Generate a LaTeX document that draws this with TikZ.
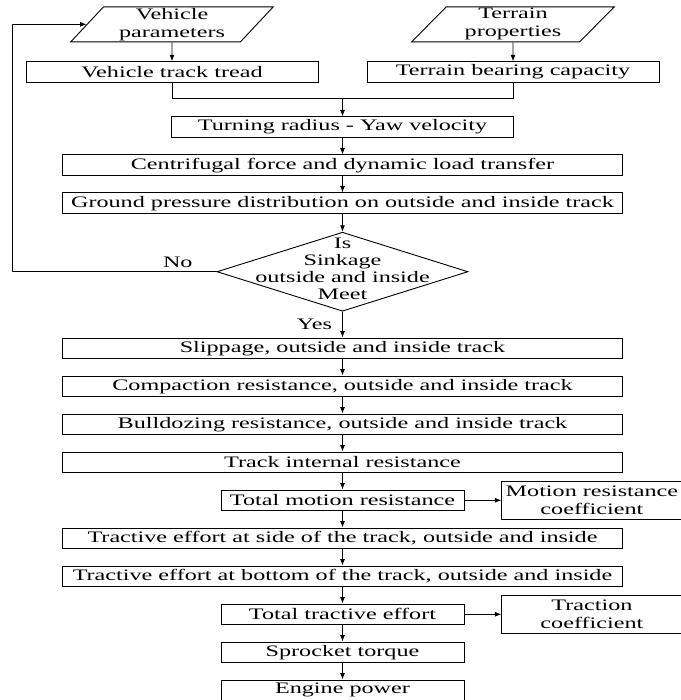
\documentclass[tikz,border=0pt]{standalone}
\usepackage{fontspec}
\setmainfont{Liberation Serif}[FakeStretch=1.51]
\usetikzlibrary{matrix,positioning,shapes.geometric,arrows.meta}

\begin{document}
\begin{tikzpicture}[x=1pt,y=-1pt,line width=0.9pt,font=\fontsize{16pt}{18pt}\selectfont,>={Latex[length=6.5pt,width=5pt]},
	box/.style={rectangle,draw,inner sep=0pt,minimum height=20.5pt},
	wide/.style={minimum width=560pt},
	mid/.style={minimum width=342pt},
	short/.style={minimum width=243pt},
	decision/.style={diamond,draw,inner sep=0pt,minimum width=251pt,minimum height=79pt},
	para/.style={trapezium,draw,trapezium left angle=52,trapezium right angle=128,trapezium stretches=true,minimum width=203pt,minimum height=35pt,inner sep=0pt,align=center},
	coef/.style={rectangle,draw,inner sep=0pt,minimum width=180pt,minimum height=38pt,align=center}]
	\useasboundingbox (0,0) rectangle (680,700);
	\node [box,minimum width=292pt] (vt) at (172,72) {Vehicle track tread};
	\node [box,minimum width=292pt] (tb) at (513,72) {Terrain bearing capacity};
	\node [para,above=19pt of vt] (vp) {Vehicle\\parameters};
	\node [para,above=19pt of tb] (tp) {Terrain\\properties};
	\matrix [matrix of nodes,anchor=north,inner sep=0pt,row sep=16.6pt,cells={nodes={box,wide,anchor=center}}] (m) at (342.5,116) {
		|[mid]| Turning radius - Yaw velocity \\
		Centrifugal force and dynamic load transfer \\
		Ground pressure distribution on outside and inside track \\[1.5pt]
		|[decision]| {} \\[9.5pt]
		Slippage, outside and inside track \\
		Compaction resistance, outside and inside track \\
		Bulldozing resistance, outside and inside track \\
		Track internal resistance \\
		|[short]| Total motion resistance \\
		Tractive effort at side of the track, outside and inside \\
		Tractive effort at bottom of the track, outside and inside \\
		|[short]| Total tractive effort \\
		|[short]| Sprocket torque \\
		|[short]| Engine power \\
	};
	\node [align=center,font=\fontsize{16pt}{17pt}\selectfont] (q) at ([yshift=2.5pt]m-4-1) {Is\\Sinkage\\outside and inside\\Meet};
	\node [coef,right=37pt of m-9-1] (mrc) {Motion resistance\\coefficient};
	\node [coef,right=37pt of m-12-1] (tc) {Traction\\coefficient};
	% main chain
	\foreach \X in {1,...,13} {
		\ifnum\X=4
		\draw [->] (m-4-1) -- (m-5-1) node [midway,left=10pt,inner sep=0pt] {Yes};
		\else
		\draw [->] (m-\X-1) -- (m-\the\numexpr\X+1\relax-1);
		\fi
	}
	\draw [->] (vp) -- (vt);
	\draw [->] (tp) -- (tb);
	\draw (vt.south) -- ++(0,16) -| (tb.south);
	\draw [->] ([yshift=18pt]m-1-1.north) -- (m-1-1.north);
	\draw [->] (m-4-1.west) -- node [pos=0.19,above,inner sep=4pt] {No} ++(-204,0) |- (vp.west);
	\draw [->] (m-9-1) -- (mrc);
	\draw [->] (m-12-1) -- (tc);
\end{tikzpicture}
\end{document}
